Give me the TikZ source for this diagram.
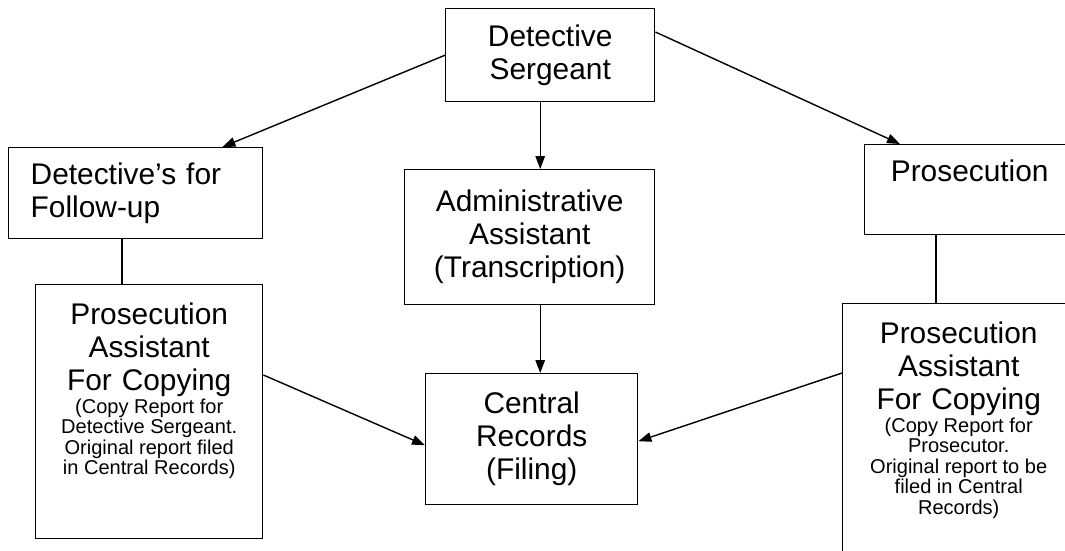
\documentclass[tikz,border=0pt]{standalone}
\usepackage{fontspec}
\setmainfont{Liberation Sans}
\usetikzlibrary{arrows.meta, positioning, calc}

\newcommand{\bigtxt}{\fontsize{17pt}{18.8pt}\selectfont}
% small note lines: own font, normal word spaces
\newcommand{\smalltxt}{\fontsize{11.4pt}{11.7pt}\selectfont\centering\spaceskip=0pt\xspaceskip=0pt}

\begin{document}
\begin{tikzpicture}[
  x=0.2mm, y=-0.2mm,
  box/.style={rectangle, draw=black, line width=0.8pt, fill=white,
              align=center, inner xsep=0pt, font=\bigtxt, anchor=north west},
  topbox/.style={box, inner ysep=0pt},
  arr/.style={-{Triangle[length=2.6mm, width=1.9mm]}, line width=0.8pt},
  link/.style={line width=0.8pt}
]
\path[use as bounding box, clip] (0,0) rectangle (1065,550);

% top row
\node[box, text width=41.8mm, minimum height=18.6mm] (ds) at (445,8) {Detective\\ Sergeant};
\node[box, align=left, inner xsep=4.4mm, text width=42mm, minimum height=18.2mm] (det) at (8,147) {Detective's for\\ Follow-up};
\node[box, text width=50mm, minimum height=27mm] (adm) at (404,169) {Administrative\\ Assistant\\ (Transcription)};
\node[topbox, text width=42mm, text height=7.4mm, text depth=10.6mm] (pros) at (864,144) {Prosecution};

% bottom row
\node[topbox, text width=45.4mm, text height=8mm, text depth=42.8mm] (lpa) at (35,284)
  {{Prosecution\\ Assistant\\ For Copying\par}
   {\smalltxt (Copy Report for\\ Detective Sergeant.\\ Original report filed\\ in Central Records)\par}};
\node[box, text width=42.4mm, minimum height=26.2mm] (cen) at (425,373) {Central\\ Records\\ (Filing)};
\node[topbox, text width=46.4mm, text height=8mm, text depth=44mm] (rpa) at (842,303)
  {{Prosecution\\ Assistant\\ For Copying\par}
   {\smalltxt (Copy Report for\\ Prosecutor.\\ Original report to be\\ filed in Central\\ Records)\par}};

% connectors
\draw[arr] (ds.west) -- ($(det.north east)+(-41,0)$);
\draw[arr] ($(ds.south)+(-10,0)$) coordinate (dsb) -- (dsb |- adm.north);
\draw[arr] ($(ds.north east)+(0,24)$) -- ($(pros.north west)+(36,0)$);
\draw[link] ($(det.south west)+(114,0)$) coordinate (dl) -- (dl |- lpa.north);
\draw[link] ($(pros.south west)+(72,0)$) coordinate (pl) -- (pl |- rpa.north);
\draw[arr] (dsb |- adm.south) -- (dsb |- cen.north);
\draw[arr] ($(lpa.north east)+(0,91)$) -- ($(cen.west)+(0,6)$);
\draw[arr] ($(rpa.north west)+(0,70)$) -- ($(cen.east)+(0,2)$);
\end{tikzpicture}
\end{document}
